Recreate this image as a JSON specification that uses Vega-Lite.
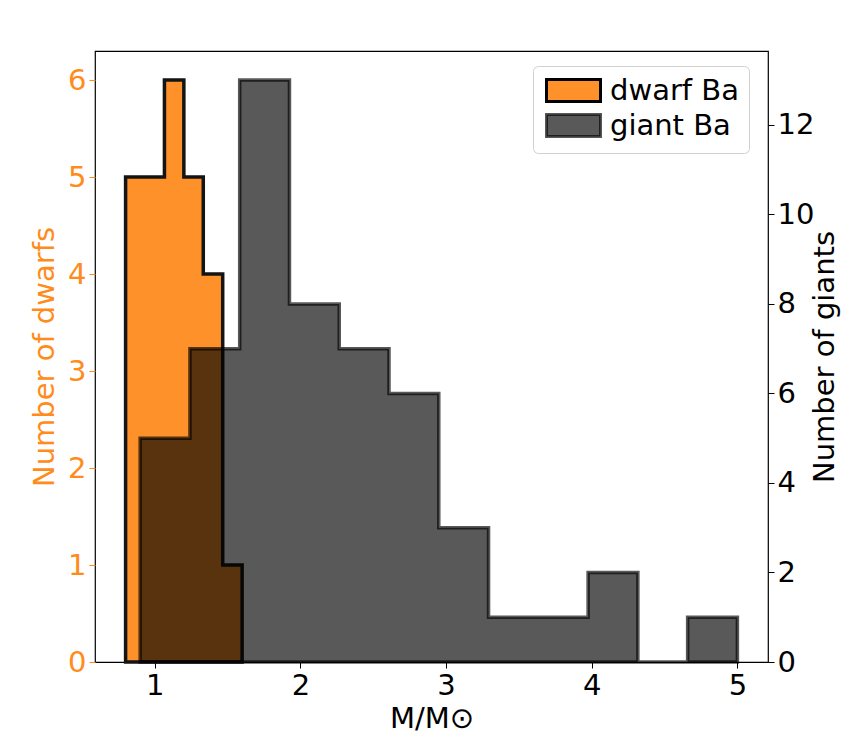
{
  "$schema": "https://vega.github.io/schema/vega-lite/v6.json",
  "autosize": {"type": "none"},
  "padding": {"left": 95, "top": 51, "right": 88, "bottom": 85},
  "width": 673,
  "height": 611,
  "background": "white",
  "config": {
    "font": "DejaVu Sans",
    "view": {"stroke": "black", "strokeWidth": 1.2},
    "axis": {
      "grid": false,
      "domain": false,
      "labelFontSize": 29,
      "titleFontSize": 29,
      "titleFontWeight": "normal",
      "labelColor": "black",
      "titleColor": "black",
      "tickColor": "black",
      "tickSize": 6,
      "tickWidth": 1,
      "labelPadding": 3
    }
  },
  "datasets": {
    "dwarf": [
      {"series": "dwarf Ba", "bin_start": 0.8, "bin_end": 0.9333, "count": 5},
      {"series": "dwarf Ba", "bin_start": 0.9333, "bin_end": 1.0667, "count": 5},
      {"series": "dwarf Ba", "bin_start": 1.0667, "bin_end": 1.2, "count": 6},
      {"series": "dwarf Ba", "bin_start": 1.2, "bin_end": 1.3333, "count": 5},
      {"series": "dwarf Ba", "bin_start": 1.3333, "bin_end": 1.4667, "count": 4},
      {"series": "dwarf Ba", "bin_start": 1.4667, "bin_end": 1.6, "count": 1}
    ],
    "giant": [
      {"series": "giant Ba", "bin_start": 0.9, "bin_end": 1.2417, "count": 5},
      {"series": "giant Ba", "bin_start": 1.2417, "bin_end": 1.5833, "count": 7},
      {"series": "giant Ba", "bin_start": 1.5833, "bin_end": 1.925, "count": 13},
      {"series": "giant Ba", "bin_start": 1.925, "bin_end": 2.2667, "count": 8},
      {"series": "giant Ba", "bin_start": 2.2667, "bin_end": 2.6083, "count": 7},
      {"series": "giant Ba", "bin_start": 2.6083, "bin_end": 2.95, "count": 6},
      {"series": "giant Ba", "bin_start": 2.95, "bin_end": 3.2917, "count": 3},
      {"series": "giant Ba", "bin_start": 3.2917, "bin_end": 3.6333, "count": 1},
      {"series": "giant Ba", "bin_start": 3.6333, "bin_end": 3.975, "count": 1},
      {"series": "giant Ba", "bin_start": 3.975, "bin_end": 4.3167, "count": 2},
      {"series": "giant Ba", "bin_start": 4.3167, "bin_end": 4.6583, "count": 0},
      {"series": "giant Ba", "bin_start": 4.6583, "bin_end": 5.0, "count": 1}
    ]
  },
  "layer": [
    {
      "data": {"name": "dwarf"},
      "transform": [{"fold": ["bin_start", "bin_end"], "as": ["edge", "x"]}],
      "mark": {"type": "area", "stroke": "#141414", "strokeWidth": 3.5, "strokeJoin": "miter"},
      "encoding": {
        "x": {
          "field": "x", "type": "quantitative",
          "scale": {"domain": [0.59, 5.21], "nice": false, "zero": false},
          "axis": {"values": [1, 2, 3, 4, 5], "format": "d", "title": "M/M⊙", "titlePadding": 4}
        },
        "y": {
          "field": "count", "type": "quantitative", "stack": null,
          "scale": {"domain": [0, 6.3], "nice": false},
          "axis": {
            "orient": "left", "values": [0, 1, 2, 3, 4, 5, 6], "title": "Number of dwarfs",
            "labelColor": "#ff8c1a", "titleColor": "#ff8c1a", "tickColor": "#ff8c1a", "titlePadding": 8
          }
        },
        "order": [{"field": "x", "type": "quantitative"}, {"field": "edge", "type": "nominal"}],
        "fill": {
          "field": "series", "type": "nominal",
          "scale": {"domain": ["dwarf Ba", "giant Ba"], "range": ["#fe9129", "#000000"]},
          "legend": {
            "orient": "none", "legendX": 438, "legendY": 15, "title": null,
            "symbolType": "M-2.25,-0.92H2.25V0.92H-2.25Z", "symbolSize": 576, "symbolOffset": 16,
            "symbolStrokeColor": "black", "symbolStrokeWidth": 3,
            "labelFontSize": 29, "labelColor": "black", "labelOffset": 22,
            "padding": 10, "rowPadding": 0, "strokeColor": "#d0d0d0", "cornerRadius": 5, "fillColor": "white",
            "encode": {
              "symbols": {
                "update": {
                  "fillOpacity": {"signal": "datum.value === 'giant Ba' ? 0.65 : 1"},
                  "strokeOpacity": {"signal": "datum.value === 'giant Ba' ? 0.65 : 1"}
                }
              }
            }
          }
        },
        "fillOpacity": {
          "field": "series", "type": "nominal",
          "scale": {"domain": ["dwarf Ba", "giant Ba"], "range": [1, 0.65]}, "legend": null
        },
        "strokeOpacity": {
          "field": "series", "type": "nominal",
          "scale": {"domain": ["dwarf Ba", "giant Ba"], "range": [1, 0.65]}, "legend": null
        }
      }
    },
    {
      "data": {"name": "giant"},
      "transform": [{"fold": ["bin_start", "bin_end"], "as": ["edge", "x"]}],
      "mark": {"type": "area", "stroke": "black", "strokeWidth": 3.5, "strokeJoin": "miter"},
      "encoding": {
        "x": {"field": "x", "type": "quantitative"},
        "y": {
          "field": "count", "type": "quantitative", "stack": null,
          "scale": {"domain": [0, 13.65], "nice": false},
          "axis": {
            "orient": "right", "values": [0, 2, 4, 6, 8, 10, 12], "title": "Number of giants",
            "titleAngle": 270, "titlePadding": 26
          }
        },
        "order": [{"field": "x", "type": "quantitative"}, {"field": "edge", "type": "nominal"}],
        "fill": {"field": "series", "type": "nominal"},
        "fillOpacity": {"field": "series", "type": "nominal", "legend": null},
        "strokeOpacity": {"field": "series", "type": "nominal", "legend": null}
      }
    }
  ],
  "resolve": {"scale": {"y": "independent"}, "axis": {"y": "independent"}}
}
